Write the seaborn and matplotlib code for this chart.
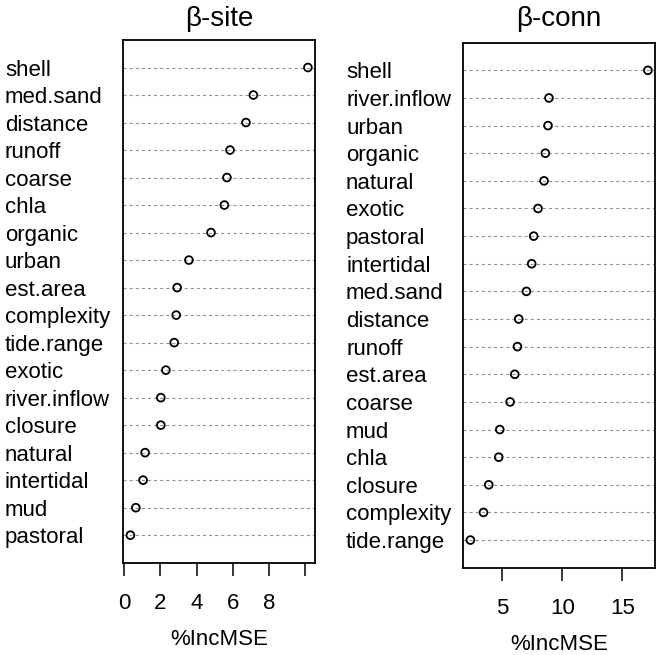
import numpy as np
import pandas as pd
import matplotlib
matplotlib.use("Agg")
import matplotlib.pyplot as plt
import seaborn as sns

# ---- data ----
site_vars = ["shell", "med.sand", "distance", "runoff", "coarse", "chla", "organic",
             "urban", "est.area", "complexity", "tide.range", "exotic", "river.inflow",
             "closure", "natural", "intertidal", "mud", "pastoral"]
site_vals = [10.15, 7.14, 6.73, 5.85, 5.68, 5.54, 4.80, 3.58, 2.93, 2.88, 2.77,
             2.31, 2.03, 2.03, 1.16, 1.05, 0.65, 0.35]

conn_vars = ["shell", "river.inflow", "urban", "organic", "natural", "exotic", "pastoral",
             "intertidal", "med.sand", "distance", "runoff", "est.area", "coarse", "mud",
             "chla", "closure", "complexity", "tide.range"]
conn_vals = [17.13, 8.88, 8.80, 8.58, 8.47, 7.97, 7.61, 7.44, 7.00, 6.36, 6.25,
             6.03, 5.64, 4.78, 4.69, 3.86, 3.42, 2.33]

site_title = "β-site"
conn_title = "β-conn"
xlabel = "%IncMSE"
site_ticks = [0, 2, 4, 6, 8, 10]
site_ticklabels = ["0", "2", "4", "6", "8", ""]
conn_ticks = [5, 10, 15]
conn_ticklabels = ["5", "10", "15"]

sns.set_style("white")
plt.rcParams["font.family"] = ["Liberation Sans", "DejaVu Sans"]
plt.rcParams["lines.scale_dashes"] = False

W, H = 662, 655
fig = plt.figure(figsize=(W / 100, H / 100), dpi=100)

panels = [
    dict(names=site_vars, vals=site_vals, title=site_title, ticks=site_ticks,
         tl=site_ticklabels, box=(123.3, 40.0, 315.0, 562.7), labx=5.0),
    dict(names=conn_vars, vals=conn_vals, title=conn_title, ticks=conn_ticks,
         tl=conn_ticklabels, box=(463.3, 42.7, 655.0, 567.7), labx=346.0),
]

FS = 16
for p in panels:
    x0, y0, x1, y1 = p["box"]
    ax = fig.add_axes([x0 / W, (H - y1) / H, (x1 - x0) / W, (y1 - y0) / H])
    df = pd.DataFrame({"var": p["names"], "val": p["vals"]})
    n = len(df)
    for i in range(n):
        ax.axhline(i, color="#909090", lw=0.8, ls=(0, (2.2, 2.2)), zorder=1)
    sns.stripplot(data=df, x="val", y="var", order=p["names"], jitter=False,
                  ax=ax, size=5.6, zorder=3)
    for coll in ax.collections:
        coll.set_facecolor("none")
        coll.set_edgecolor("black")
        coll.set_linewidth(1.3)

    v = np.asarray(p["vals"])
    rng = v.max() - v.min()
    ax.set_xlim(v.min() - 0.04 * rng, v.max() + 0.04 * rng)
    ax.set_ylim(n, -1)

    ax.set_xticks(p["ticks"])
    ax.set_xticklabels(p["tl"], fontsize=FS)
    ax.tick_params(axis="x", direction="out", length=9.5, width=1.1, pad=12,
                   color="black", labelcolor="black", bottom=True)
    ax.set_xlabel(xlabel, fontsize=FS, labelpad=11, color="black")
    ax.set_ylabel("")
    pad_pt = (x0 - p["labx"]) * 72 / 100
    ax.tick_params(axis="y", length=0, pad=pad_pt, labelsize=FS, labelcolor="black")
    for t in ax.get_yticklabels():
        t.set_horizontalalignment("left")
    for s in ax.spines.values():
        s.set_visible(True)
        s.set_color("black")
        s.set_linewidth(1.3)
    fig.text((x0 + x1) / 2 / W, 1 - 18.5 / H, p["title"], ha="center", va="center",
             fontsize=20, color="black")

fig.savefig("out.png", dpi=100, facecolor="white")
